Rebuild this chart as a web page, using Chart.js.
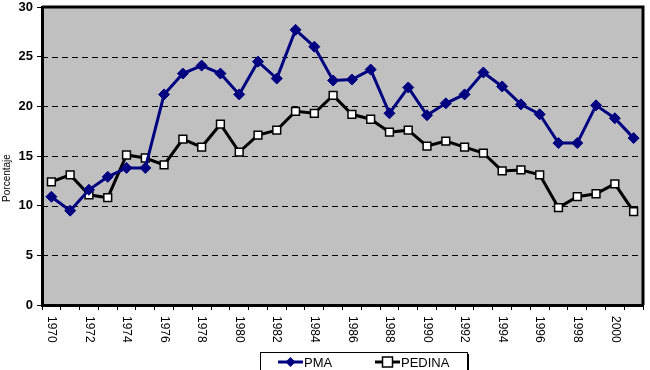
<!DOCTYPE html>
<html>
<head>
<meta charset="utf-8">
<script src="https://cdn.jsdelivr.net/npm/chart.js@4"></script>
<style>
  html, body { margin: 0; padding: 0; background: #fff; }
  #wrap { width: 650px; height: 370px; }
</style>
</head>
<body>
<div id="wrap"><canvas id="grafico"></canvas></div>
<script>
// Años (eje X)
const years = ['1970','1971','1972','1973','1974','1975','1976','1977','1978','1979',
               '1980','1981','1982','1983','1984','1985','1986','1987','1988','1989',
               '1990','1991','1992','1993','1994','1995','1996','1997','1998','1999',
               '2000','2001'];

// Serie PMA
const pma = [10.9, 9.5, 11.6, 12.9, 13.8, 13.8, 21.2, 23.3, 24.1, 23.3,
             21.2, 24.5, 22.8, 27.7, 26.0, 22.6, 22.7, 23.7, 19.3, 21.9,
             19.1, 20.3, 21.2, 23.4, 22.0, 20.2, 19.2, 16.3, 16.3, 20.1,
             18.8, 16.8];

// Serie PEDINA
const pedina = [12.4, 13.1, 11.1, 10.8, 15.1, 14.8, 14.1, 16.7, 15.9, 18.2,
                15.4, 17.1, 17.6, 19.5, 19.3, 21.1, 19.2, 18.7, 17.4, 17.6,
                16.0, 16.5, 15.9, 15.3, 13.5, 13.6, 13.1, 9.8, 10.9, 11.2,
                12.2, 9.4];

const yTicks = [0, 5, 10, 15, 20, 25, 30];

// Fondo gris, borde del área, etiquetas giradas y leyenda
const decor = {
    id: 'decor',
    beforeDraw(chart) {
        const { ctx, chartArea: a } = chart;
        ctx.save();
        ctx.fillStyle = '#c0c0c0';
        ctx.fillRect(a.left, a.top, a.right - a.left, a.bottom - a.top);
        ctx.restore();
    },
    beforeDatasetsDraw(chart) {
        // líneas de división discontinuas
        const { ctx, chartArea: a } = chart;
        const y = chart.scales.y;
        ctx.save();
        ctx.strokeStyle = '#000';
        ctx.lineWidth = 1;
        ctx.setLineDash([6, 4]);
        yTicks.forEach(v => {
            if (v === 0 || v === 30) return;
            const py = Math.round(y.getPixelForValue(v)) + 0.5;
            ctx.beginPath();
            ctx.moveTo(a.left, py);
            ctx.lineTo(a.right, py);
            ctx.stroke();
        });
        ctx.restore();
    },
    afterDraw(chart) {
        const { ctx, chartArea: a } = chart;
        const x = chart.scales.x;
        ctx.save();
        // borde superior y derecho
        ctx.strokeStyle = '#000';
        ctx.lineWidth = 3;
        ctx.beginPath();
        ctx.moveTo(a.left, a.top);
        ctx.lineTo(a.right, a.top);
        ctx.lineTo(a.right, a.bottom);
        ctx.stroke();

        // etiquetas del eje X (leídas de arriba hacia abajo)
        ctx.fillStyle = '#000';
        ctx.font = '12px "Liberation Sans", Arial, sans-serif';
        ctx.textAlign = 'left';
        ctx.textBaseline = 'middle';
        years.forEach((y, i) => {
            if (i % 2 !== 0) return;
            const px = x.getPixelForValue(i);
            ctx.save();
            ctx.translate(px, a.bottom + 11);
            ctx.rotate(Math.PI / 2);
            ctx.fillText(y, 0, 0);
            ctx.restore();
        });

        // título del eje Y
        ctx.save();
        ctx.font = '10px "Liberation Sans", Arial, sans-serif';
        ctx.textAlign = 'center';
        ctx.textBaseline = 'middle';
        ctx.translate(7, 178);
        ctx.rotate(-Math.PI / 2);
        ctx.fillText('Porcentaje', 0, 0);
        ctx.restore();

        // leyenda
        const lx = 260, ly = 352, lw = 207, lh = 22;
        ctx.fillStyle = '#000';
        ctx.fillRect(lx + 2, ly + 2, lw, lh);
        ctx.fillStyle = '#fff';
        ctx.fillRect(lx, ly, lw, lh);
        ctx.strokeStyle = '#000';
        ctx.lineWidth = 1;
        ctx.strokeRect(lx + 0.5, ly + 0.5, lw, lh);

        const cy = 362;
        const items = [
            { ds: chart.data.datasets[0], x0: 278 },
            { ds: chart.data.datasets[1], x0: 375 }
        ];
        ctx.font = '13px "Liberation Sans", Arial, sans-serif';
        ctx.textAlign = 'left';
        items.forEach(it => {
            ctx.strokeStyle = it.ds.borderColor;
            ctx.lineWidth = 3;
            ctx.beginPath();
            ctx.moveTo(it.x0, cy);
            ctx.lineTo(it.x0 + 25, cy);
            ctx.stroke();
            const mx = it.x0 + 12.5;
            if (it.ds.pointStyle === 'rectRot') {
                ctx.fillStyle = it.ds.pointBackgroundColor;
                ctx.beginPath();
                ctx.moveTo(mx, cy - 5);
                ctx.lineTo(mx + 5, cy);
                ctx.lineTo(mx, cy + 5);
                ctx.lineTo(mx - 5, cy);
                ctx.closePath();
                ctx.fill();
            } else {
                ctx.fillStyle = '#fff';
                ctx.fillRect(mx - 5, cy - 5, 10, 10);
                ctx.lineWidth = 1.5;
                ctx.strokeStyle = '#000';
                ctx.strokeRect(mx - 5, cy - 5, 10, 10);
            }
            ctx.fillStyle = '#000';
            ctx.fillText(it.ds.label, it.x0 + 26, cy + 1);
        });
        ctx.restore();
    }
};

new Chart(document.getElementById('grafico'), {
    type: 'line',
    data: {
        labels: years,
        datasets: [{
            label: 'PMA',
            data: pma,
            borderColor: '#000080',
            backgroundColor: '#000080',
            borderWidth: 3,
            pointStyle: 'rectRot',
            pointRadius: 5.5,
            pointBackgroundColor: '#000080',
            pointBorderColor: '#000080',
            pointBorderWidth: 1,
            tension: 0
        }, {
            label: 'PEDINA',
            data: pedina,
            borderColor: '#000',
            backgroundColor: '#fff',
            borderWidth: 3,
            pointStyle: 'rect',
            pointRadius: 5.5,
            pointBackgroundColor: '#fff',
            pointBorderColor: '#000',
            pointBorderWidth: 1.5,
            tension: 0
        }]
    },
    options: {
        responsive: true,
        maintainAspectRatio: false,
        animation: false,
        layout: { padding: { top: 3, right: 4, bottom: 0, left: 0 } },
        plugins: {
            legend: { display: false },
            tooltip: { enabled: false }
        },
        scales: {
            x: {
                offset: true,
                afterFit(s) {
                    s.height = 65;
                    s.paddingLeft = 0;
                    s.paddingRight = 0;
                },
                grid: {
                    offset: true,
                    drawOnChartArea: false,
                    drawTicks: true,
                    tickLength: 5,
                    color: '#000',
                    lineWidth: 1
                },
                border: { display: true, color: '#000', width: 3 },
                ticks: { display: false, autoSkip: false }
            },
            y: {
                min: 0,
                max: 30,
                afterFit(s) {
                    s.width = 42;
                    s.paddingTop = 0;
                    s.paddingBottom = 0;
                },
                afterBuildTicks(s) { s.ticks = yTicks.map(v => ({ value: v })); },
                grid: {
                    drawOnChartArea: false,
                    color: '#000',
                    lineWidth: 1,
                    drawTicks: true,
                    tickLength: 5
                },
                border: { display: true, color: '#000', width: 3 },
                ticks: {
                    color: '#000',
                    padding: 4,
                    font: { family: '"Liberation Sans", Arial, sans-serif', size: 13, weight: 'bold' }
                }
            }
        }
    },
    plugins: [decor]
});
</script>
</body>
</html>
